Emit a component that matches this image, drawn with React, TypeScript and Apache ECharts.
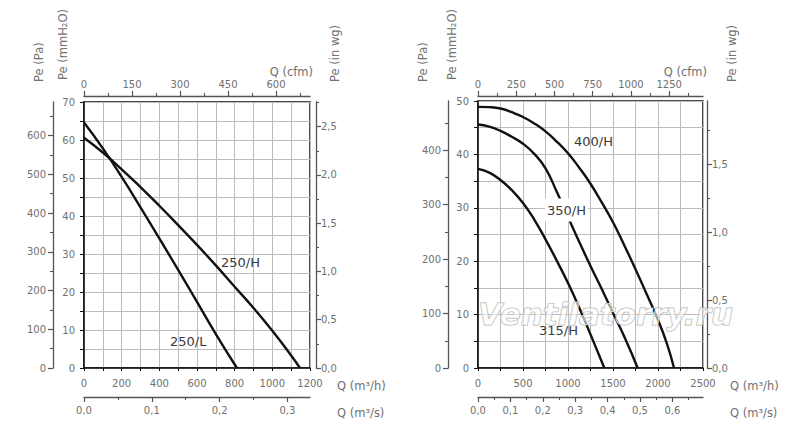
import React, { useEffect, useRef } from "react";
import * as echarts from "echarts";

// ---- Data (Q in m3/h, Pe in mmH2O) ----
const Q_250H = [0, 100, 200, 300, 400, 500, 600, 700, 800, 900, 1000, 1100, 1147];
const PE_250H = [60.6, 56.7, 52.3, 47.6, 42.7, 37.6, 32.4, 27.0, 21.4, 15.8, 9.8, 3.3, 0];
const Q_250L = [0, 100, 200, 300, 400, 500, 600, 700, 812];
const PE_250L = [64.6, 57.8, 50.3, 42.3, 34.1, 25.8, 17.4, 8.9, 0];

const Q_400H = [0, 125, 250, 375, 500, 625, 750, 875, 1000, 1125, 1250, 1375, 1500, 1625, 1750, 1875, 2000, 2100, 2178];
const PE_400H = [48.9, 48.85, 48.6, 47.9, 47.0, 45.8, 44.3, 42.4, 40.2, 37.5, 34.5, 31.0, 27.3, 23.0, 18.5, 13.8, 9.0, 4.5, 0];
const Q_350H = [0, 125, 250, 375, 500, 625, 750, 875, 1000, 1125, 1250, 1375, 1500, 1625, 1774];
const PE_350H = [45.6, 45.2, 44.4, 43.3, 42.0, 40.1, 37.4, 33.0, 28.3, 23.6, 19.1, 14.8, 10.3, 5.9, 0];
const Q_315H = [0, 125, 250, 375, 500, 625, 750, 875, 1000, 1125, 1250, 1404];
const PE_315H = [37.3, 36.6, 35.2, 33.3, 30.9, 27.8, 24.1, 20.1, 15.9, 11.3, 6.3, 0];

// ---- Axis ranges / tick labels ----
const LEFT_Q_MAX = 1200;
const LEFT_PE_MAX = 70;
const RIGHT_Q_MAX = 2500;
const RIGHT_PE_MAX = 50;

const LEFT_PA_LABELS = [0, 100, 200, 300, 400, 500, 600];
const LEFT_INWG_LABELS = [0, 0.5, 1.0, 1.5, 2.0, 2.5];
const LEFT_CFM_LABELS = [0, 150, 300, 450, 600];
const LEFT_M3S_LABELS = [0, 0.1, 0.2, 0.3];

const RIGHT_PA_LABELS = [0, 100, 200, 300, 400];
const RIGHT_INWG_LABELS = [0, 0.5, 1.0, 1.5];
const RIGHT_CFM_LABELS = [0, 250, 500, 750, 1000, 1250];
const RIGHT_M3S_LABELS = [0, 0.1, 0.2, 0.3, 0.4, 0.5, 0.6];

const PA_PER_MM = 9.80665;
const MM_PER_INWG = 25.4;
const M3H_PER_CFM = 1.699;

const FONT = "DejaVu Sans";
const LABEL_COLOR = "#707070";

const isMult = (v: number, s: number) => Math.abs(v / s - Math.round(v / s)) < 1e-6;
const comma = (v: number, d: number) => v.toFixed(d).replace(".", ",");

function minorsOf(major: number[], max: number) {
  const step = major[1] - major[0];
  const out: number[] = [];
  for (let i = 0; i < major.length; i++) {
    const m = major[i] + step / 2;
    if (m < max - 1e-9) out.push(+m.toFixed(6));
  }
  return out;
}

function outerAxisPair(
  grid: number,
  position: string,
  offset: number,
  max: number,
  labels: number[],
  fmt: (v: number) => string,
  margin: number
) {
  const base = {
    type: "value",
    gridIndex: grid,
    position,
    offset,
    min: 0,
    max,
    splitLine: { show: false },
  };
  const major = {
    ...base,
    axisLine: { show: true, onZero: false, lineStyle: { color: "#555", width: 1.3 } },
    axisTick: { show: true, length: 5, customValues: labels, lineStyle: { color: "#555", width: 1.2 } },
    axisLabel: {
      show: true,
      customValues: labels,
      formatter: (v: number) => fmt(v),
      color: LABEL_COLOR,
      fontSize: 10,
      fontFamily: FONT,
      margin,
    },
  };
  const minor = {
    ...base,
    axisLine: { show: false, onZero: false },
    axisTick: { show: true, length: 3, customValues: minorsOf(labels, max), lineStyle: { color: "#555", width: 1.1 } },
    axisLabel: { show: false },
  };
  return [major, minor];
}

function mainX(grid: number, max: number, step: number, labelStep: number) {
  return {
    type: "value",
    gridIndex: grid,
    position: "bottom",
    min: 0,
    max,
    interval: step,
    axisLine: { show: true, onZero: false, lineStyle: { color: "#111", width: 1.5 } },
    axisTick: { show: true, length: 3, lineStyle: { color: "#111" } },
    axisLabel: {
      formatter: (v: number) => (isMult(v, labelStep) ? String(v) : ""),
      color: LABEL_COLOR,
      fontSize: 10,
      fontFamily: FONT,
      margin: 10,
    },
    splitLine: { show: true, lineStyle: { color: "#bcbcbc", width: 1 } },
  };
}

function mainY(grid: number, max: number, step: number, labelStep: number) {
  return {
    type: "value",
    gridIndex: grid,
    position: "left",
    min: 0,
    max,
    interval: step,
    axisLine: { show: true, onZero: false, lineStyle: { color: "#111", width: 1.5 } },
    axisTick: { show: true, length: 4, lineStyle: { color: "#111" } },
    axisLabel: {
      formatter: (v: number) => (isMult(v, labelStep) ? String(v) : ""),
      color: LABEL_COLOR,
      fontSize: 10,
      fontFamily: FONT,
      margin: 9,
    },
    splitLine: { show: true, lineStyle: { color: "#bcbcbc", width: 1 } },
  };
}

const pairs = (q: number[], p: number[]) => q.map((v, i) => [v, p[i]]);

function curve(name: string, q: number[], p: number[], xi: number, yi: number, smooth: number) {
  return {
    type: "line",
    name,
    xAxisIndex: xi,
    yAxisIndex: yi,
    data: pairs(q, p),
    showSymbol: false,
    symbol: "none",
    smooth,
    lineStyle: { color: "#111", width: 2.4 },
    z: 5,
  };
}

function nameText(text: string, x: number, y: number, vertical: boolean, align = "left") {
  return {
    type: "text",
    x,
    y,
    rotation: vertical ? Math.PI / 2 : 0,
    z: 60,
    style: {
      text,
      fill: LABEL_COLOR,
      font: `11.5px "${FONT}"`,
      align,
      verticalAlign: "middle",
    },
  };
}

function curveLabel(text: string, x: number, y: number, bg = false) {
  return {
    type: "text",
    x,
    y,
    z: 60,
    style: {
      text,
      fill: "#3a3a3a",
      font: `13px "${FONT}"`,
      align: "left",
      verticalAlign: "middle",
      backgroundColor: bg ? "#ffffff" : undefined,
      padding: bg ? [5, 2, 5, 2] : 0,
    },
  };
}

export default function App() {
  const ref = useRef<HTMLDivElement>(null);
  useEffect(() => {
    if (!ref.current) return;
    const chart = echarts.init(ref.current, undefined, { renderer: "svg" });

    const lPaMax = LEFT_PE_MAX * PA_PER_MM;
    const lInMax = LEFT_PE_MAX / MM_PER_INWG;
    const lCfmMax = LEFT_Q_MAX / M3H_PER_CFM;
    const lM3sMax = LEFT_Q_MAX / 3600;
    const rPaMax = RIGHT_PE_MAX * PA_PER_MM;
    const rInMax = RIGHT_PE_MAX / MM_PER_INWG;
    const rCfmMax = RIGHT_Q_MAX / M3H_PER_CFM;
    const rM3sMax = RIGHT_Q_MAX / 3600;

    const xAxis = [
      mainX(0, LEFT_Q_MAX, 100, 200), // 0
      ...outerAxisPair(0, "bottom", 29, lM3sMax, LEFT_M3S_LABELS, (v) => comma(v, 1), 8), // 1,2
      ...outerAxisPair(0, "top", 6, lCfmMax, LEFT_CFM_LABELS, (v) => String(Math.round(v)), 7), // 3,4
      mainX(1, RIGHT_Q_MAX, 250, 500), // 5
      ...outerAxisPair(1, "bottom", 29, rM3sMax, RIGHT_M3S_LABELS, (v) => comma(v, 1), 8), // 6,7
      ...outerAxisPair(1, "top", 5, rCfmMax, RIGHT_CFM_LABELS, (v) => String(Math.round(v)), 7), // 8,9
    ];
    const yAxis = [
      mainY(0, LEFT_PE_MAX, 5, 10), // 0
      ...outerAxisPair(0, "left", 31, lPaMax, LEFT_PA_LABELS, (v) => String(Math.round(v)), 7), // 1,2
      ...outerAxisPair(0, "right", 6, lInMax, LEFT_INWG_LABELS, (v) => comma(v, 1), 5), // 3,4
      mainY(1, RIGHT_PE_MAX, 5, 10), // 5
      ...outerAxisPair(1, "left", 30, rPaMax, RIGHT_PA_LABELS, (v) => String(Math.round(v)), 7), // 6,7
      ...outerAxisPair(1, "right", 4, rInMax, RIGHT_INWG_LABELS, (v) => comma(v, 1), 5), // 8,9
    ];

    chart.setOption({
      animation: false,
      backgroundColor: "#ffffff",
      grid: [
        { left: 84, top: 102, width: 226, height: 266, show: true, borderColor: "#111", borderWidth: 1.5 },
        { left: 478, top: 101, width: 225, height: 267, show: true, borderColor: "#111", borderWidth: 1.5 },
      ],
      xAxis,
      yAxis,
      series: [
        curve("250/H", Q_250H, PE_250H, 0, 0, 0.5),
        curve("250/L", Q_250L, PE_250L, 0, 0, 0.5),
        curve("400/H", Q_400H, PE_400H, 5, 5, 0.5),
        curve("350/H", Q_350H, PE_350H, 5, 5, 0.5),
        curve("315/H", Q_315H, PE_315H, 5, 5, 0.5),
      ],
      graphic: [
        // left chart axis names
        nameText("Pe (Pa)", 39, 82, true),
        nameText("Pe (mmH₂O)", 63, 80, true),
        nameText("Pe (in wg)", 335, 82, true),
        nameText("Q (cfm)", 313, 72, false, "right"),
        nameText("Q (m³/h)", 337, 386, false),
        nameText("Q (m³/s)", 337, 413, false),
        // right chart axis names
        nameText("Pe (Pa)", 423, 82, true),
        nameText("Pe (mmH₂O)", 452, 80, true),
        nameText("Pe (in wg)", 732, 82, true),
        nameText("Q (cfm)", 707, 72, false, "right"),
        nameText("Q (m³/h)", 730, 386, false),
        nameText("Q (m³/s)", 730, 413, false),
        // curve labels
        curveLabel("250/H", 221, 262),
        curveLabel("250/L", 170, 341),
        curveLabel("400/H", 574, 141),
        curveLabel("350/H", 545, 210, true),
        curveLabel("315/H", 539, 330),
        // watermark
        {
          type: "text",
          x: 478,
          y: 314,
          z: 80,
          style: {
            text: "Ventilatorry.ru",
            font: `italic bold 31px "${FONT}"`,
            fill: "rgba(255,255,255,0.6)",
            stroke: "#b4b4b4",
            lineWidth: 1,
            align: "left",
            verticalAlign: "middle",
          },
        },
      ],
    });
    return () => chart.dispose();
  }, []);
  return (
    <div
      ref={ref}
      style={{ position: "fixed", left: 0, top: 0, width: 800, height: 438, background: "#fff" }}
    />
  );
}
